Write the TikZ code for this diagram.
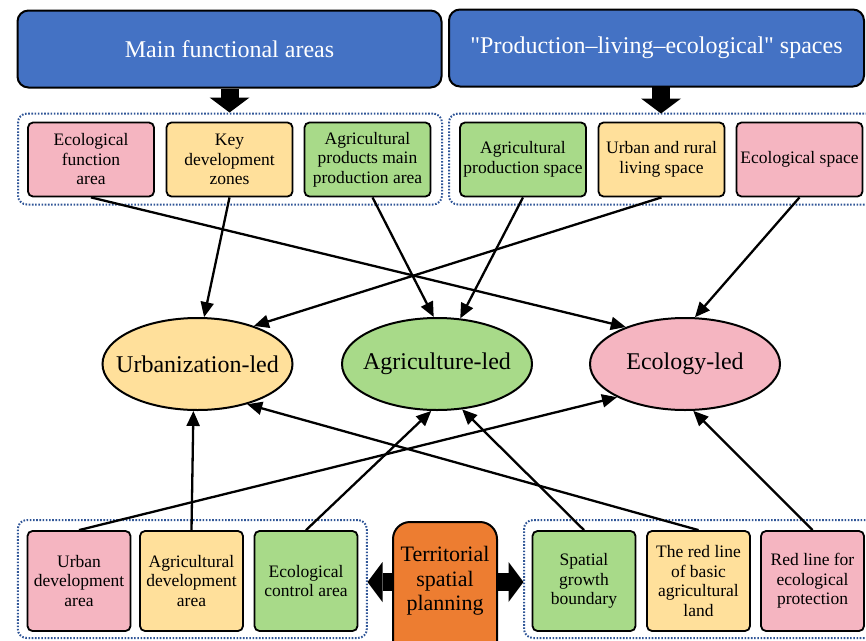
\documentclass[tikz,border=0pt]{standalone}
\usepackage{fontspec}
\setmainfont{Liberation Serif}
\newfontfamily\plainserif{Liberation Serif}[Ligatures=TeXOff]
\usetikzlibrary{shapes.geometric,arrows.meta}
\definecolor{myblue}{HTML}{4472C4}
\definecolor{pinkc}{HTML}{F5B5C1}
\definecolor{yellowc}{HTML}{FFE09B}
\definecolor{greenc}{HTML}{A8DA89}
\definecolor{orangec}{HTML}{ED7D31}
\definecolor{dotblue}{HTML}{2F5597}
\tikzset{
  topbox/.style={draw=black, line width=2pt, fill=myblue, rounded corners=11pt, text=white,
    font=\fontsize{24}{28}\selectfont, minimum width=424pt, minimum height=77pt, inner sep=0pt},
  sbox/.style={draw=black, line width=1.8pt, rounded corners=5pt, minimum width=126pt,
    minimum height=74pt, inner sep=0pt, align=center, font=\fontsize{17.5}{19.5}\selectfont},
  bbox/.style={draw=black, line width=1.8pt, rounded corners=5pt, minimum width=103pt,
    minimum height=100pt, inner sep=0pt, align=center, font=\fontsize{17.5}{19.5}\selectfont},
  grp/.style={draw=dotblue, line width=2pt, dash pattern=on 1.6pt off 1.6pt, rounded corners=9pt, inner sep=0pt},
  lead/.style={ellipse, draw=black, line width=2pt, minimum width=190pt, minimum height=92pt,
    inner sep=0pt},
  leadtext/.style={font=\fontsize{24}{28}\selectfont},
  conn/.style={line width=2.3pt, -{Triangle[length=15pt,width=13pt]}},
  bigv/.style={line width=18pt, -{Triangle[length=15pt,width=40pt,line width=0pt]}},
}
\begin{document}
\begin{tikzpicture}[x=1pt,y=-1pt]
\useasboundingbox (0,0) rectangle (866,640);
\clip (0,0) rectangle (866,640);
% top headers
\node[topbox] (t1) at (229.5,49) {Main functional areas};
\node[topbox, minimum width=415pt] (t2) at (656.5,48) {\plainserif "Production–living–ecological" spaces};
% top groups
\node[grp, minimum width=424pt, minimum height=91pt] (g1) at (230,159) {};
\node[grp, minimum width=440pt, minimum height=91pt] (g2) at (669,159) {};
\coordinate (p1s) at (t1.south);
\coordinate (p1e) at (g1.north -| t1.south);
\coordinate (p2s) at (661,86.5);
\coordinate (p2e) at (661,113.5);
\draw[bigv] (p1s) -- (p1e);
\draw[bigv] (p2s) -- (p2e);
% top boxes
\node[sbox, fill=pinkc] (a1) at (91,159.5) {Ecological\\function\\area};
\node[sbox, fill=yellowc] (a2) at (229.5,159.5) {Key\\development\\zones};
\node[sbox, fill=greenc] (a3) at (367.5,159.5) {Agricultural\\products main\\production area};
\node[sbox, fill=greenc] (a4) at (523,159.5) {Agricultural\\production space};
\node[sbox, fill=yellowc] (a5) at (661.5,159.5) {Urban and rural\\living space};
\node[sbox, fill=pinkc] (a6) at (799.5,159.5) {Ecological space};
% ellipses
\node[lead, fill=yellowc, label={[leadtext]center:Urbanization-led}] (u) at (197.5,364) {};
\node[lead, fill=greenc, label={[leadtext]center:Agriculture-led}] (g) at (437,364) {};
\node[lead, fill=pinkc, label={[leadtext]center:Ecology-led}] (e) at (685,364) {};
% bottom groups
\node[grp, minimum width=349pt, minimum height=118pt] (h1) at (192.3,579) {};
\node[grp, minimum width=360pt, minimum height=118pt] (h2) at (704,579) {};
% orange
\node[draw=black, line width=2pt, fill=orangec, rounded corners=17pt, minimum width=104pt,
  minimum height=140pt, inner sep=0pt, anchor=north] (ts) at (445,521) {};
\node[font=\fontsize{22}{24.5}\selectfont, align=center] (tst) at (445,581) {Territorial\\spatial\\planning};
\coordinate (q1s) at (393,582);
\coordinate (q1e) at (367.5,582);
\coordinate (q2s) at (497,582);
\coordinate (q2e) at (523.5,582);
\draw[bigv] (q1s) -- (q1e);
\draw[bigv] (q2s) -- (q2e);
% bottom boxes
\node[bbox, fill=pinkc] (b1) at (79,581) {Urban\\development\\area};
\node[bbox, fill=yellowc] (b2) at (191.5,581) {Agricultural\\development\\area};
\node[bbox, fill=greenc] (b3) at (306,581) {Ecological\\control area};
\node[bbox, fill=greenc] (b4) at (584,581) {Spatial\\growth\\boundary};
\node[bbox, fill=yellowc] (b5) at (698.5,581) {The red line\\of basic\\agricultural\\land};
\node[bbox, fill=pinkc] (b6) at (812.5,581) {Red line for\\ecological\\protection};
% connectors top
\draw[conn] (a1.south) -- (e.148);
\draw[conn] (a2.south) -- (u.82);
\draw[conn] ([xshift=5pt]a3.south) -- (g.94);
\draw[conn] (a4.south) -- (g.63);
\draw[conn] (a5.south) -- (u.34);
\draw[conn] (a6.south) -- (e.78);
% connectors bottom
\draw[conn] (b1.north) -- (e.206);
\draw[conn] (b2.north) -- (u.265);
\draw[conn] (b3.north) -- (g.263);
\draw[conn] (b4.north) -- (g.299);
\draw[conn] (b5.north) -- (u.321);
\draw[conn] (b6.north) -- (e.280);
\end{tikzpicture}
\end{document}
